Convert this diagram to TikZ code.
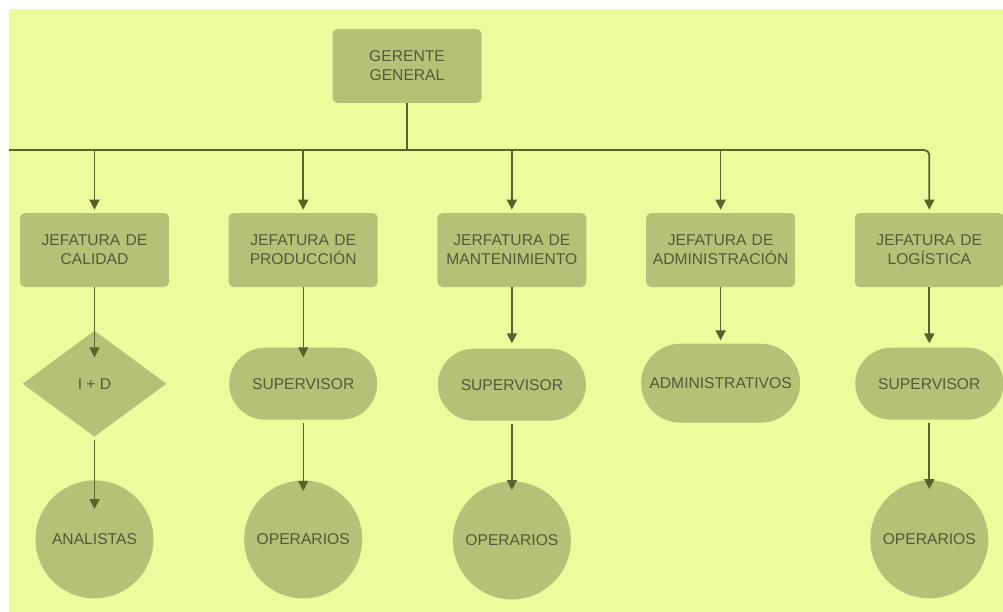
\documentclass[tikz,border=0pt]{standalone}
\usepackage{fontspec}
\setmainfont{Liberation Sans}
\usepackage{tikz}
\definecolor{fondo}{RGB}{235,252,156}
\definecolor{caja}{RGB}{181,193,119}
\definecolor{trazo}{RGB}{88,98,42}
\definecolor{letra}{RGB}{84,90,56}
\usetikzlibrary{shapes.geometric, arrows.meta, positioning}

\begin{document}
\begin{tikzpicture}[
    font=\fontsize{8.9}{10.8}\selectfont,
    jefe/.style={rectangle, rounded corners=0.1cm, fill=caja, text=letra, text width=2.9cm, align=center, minimum width=2.98cm, minimum height=1.48cm, inner sep=0pt},
    mando/.style={rectangle, rounded corners=0.72cm, fill=caja, text=letra, minimum width=2.96cm, minimum height=1.44cm, inner sep=0pt},
    grupo/.style={circle, fill=caja, text=letra, minimum size=2.36cm, inner sep=0pt},
    decision/.style={diamond, fill=caja, text=letra, minimum width=2.88cm, minimum height=2.12cm, inner sep=0pt},
    tronco/.style={line width=1pt, draw=trazo},
    arrow/.style={-{Triangle[length=0.2cm, width=0.2cm]}, line width=1pt, draw=trazo}
]
    \useasboundingbox (0,0) rectangle (20.06,-12.24);
    \fill[white] (0,0) rectangle (20.06,-12.24);
    \fill[fondo] (0.18,-0.18) rectangle (20.06,-12.24);

    \node[jefe] (gerente) at (8.14,-1.32) {GERENTE\\GENERAL};

    % jefaturas
    \node[jefe] (cal) at (1.89,-5.0) {JEFATURA DE\\CALIDAD};
    \node[jefe, right=1.18cm of cal] (prod) {JEFATURA DE\\PRODUCCIÓN};
    \node[jefe, right=1.18cm of prod] (mant) {JERFATURA DE\\MANTENIMIENTO};
    \node[jefe, right=1.18cm of mant] (adm) {JEFATURA DE\\ADMINISTRACIÓN};
    \node[jefe, right=1.18cm of adm] (log) {JEFATURA DE\\LOGÍSTICA};

    % segundo y tercer nivel
    \node[decision, below=0.86cm of cal] (id) {I + D};
    \node[grupo, below=0.86cm of id] (ana) {ANALISTAS};
    \node[mando, below=1.2cm of prod] (supprod) {SUPERVISOR};
    \node[grupo, below=1.2cm of supprod] (opprod) {OPERARIOS};
    \node[mando, below=1.22cm of mant] (supmant) {SUPERVISOR};
    \node[grupo, below=1.2cm of supmant] (opmant) {OPERARIOS};
    \node[mando, minimum width=3.18cm, minimum height=1.58cm, rounded corners=0.79cm, below=1.12cm of adm] (admvos) {ADMINISTRATIVOS};
    \node[mando, below=1.2cm of log] (suplog) {SUPERVISOR};
    \node[grupo, below=1.2cm of suplog] (oplog) {OPERARIOS};

    % linea de mando
    \coordinate (busL) at (0.18,-3.0);
    \draw[tronco] (gerente) -- (gerente |- busL);
    \draw[arrow, rounded corners=0.1cm, shorten >=0.06cm] (busL) -| (log);
    \foreach \j in {cal, prod, mant, adm}
        \draw[arrow, shorten >=0.06cm] (\j |- busL) -- (\j);

    \draw[arrow, shorten >=-0.54cm] (cal) -- (id);
    \draw[arrow, shorten >=-0.58cm, shorten <=0.06cm] (id) -- (ana);
    \draw[arrow, line width=0.6pt, shorten >=-0.2cm] (prod) -- (supprod);
    \draw[arrow, line width=0.6pt, shorten >=-0.22cm, shorten <=0.06cm] (supprod) -- (opprod);
    \draw[arrow, shorten >=0.1cm] (mant) -- (supmant);
    \draw[arrow, shorten >=-0.18cm, shorten <=0.06cm] (supmant) -- (opmant);
    \draw[arrow, shorten >=0.06cm] (adm) -- (admvos);
    \draw[arrow, shorten >=0.08cm] (log) -- (suplog);
    \draw[arrow, shorten >=-0.18cm, shorten <=0.06cm] (suplog) -- (oplog);
\end{tikzpicture}
\end{document}
